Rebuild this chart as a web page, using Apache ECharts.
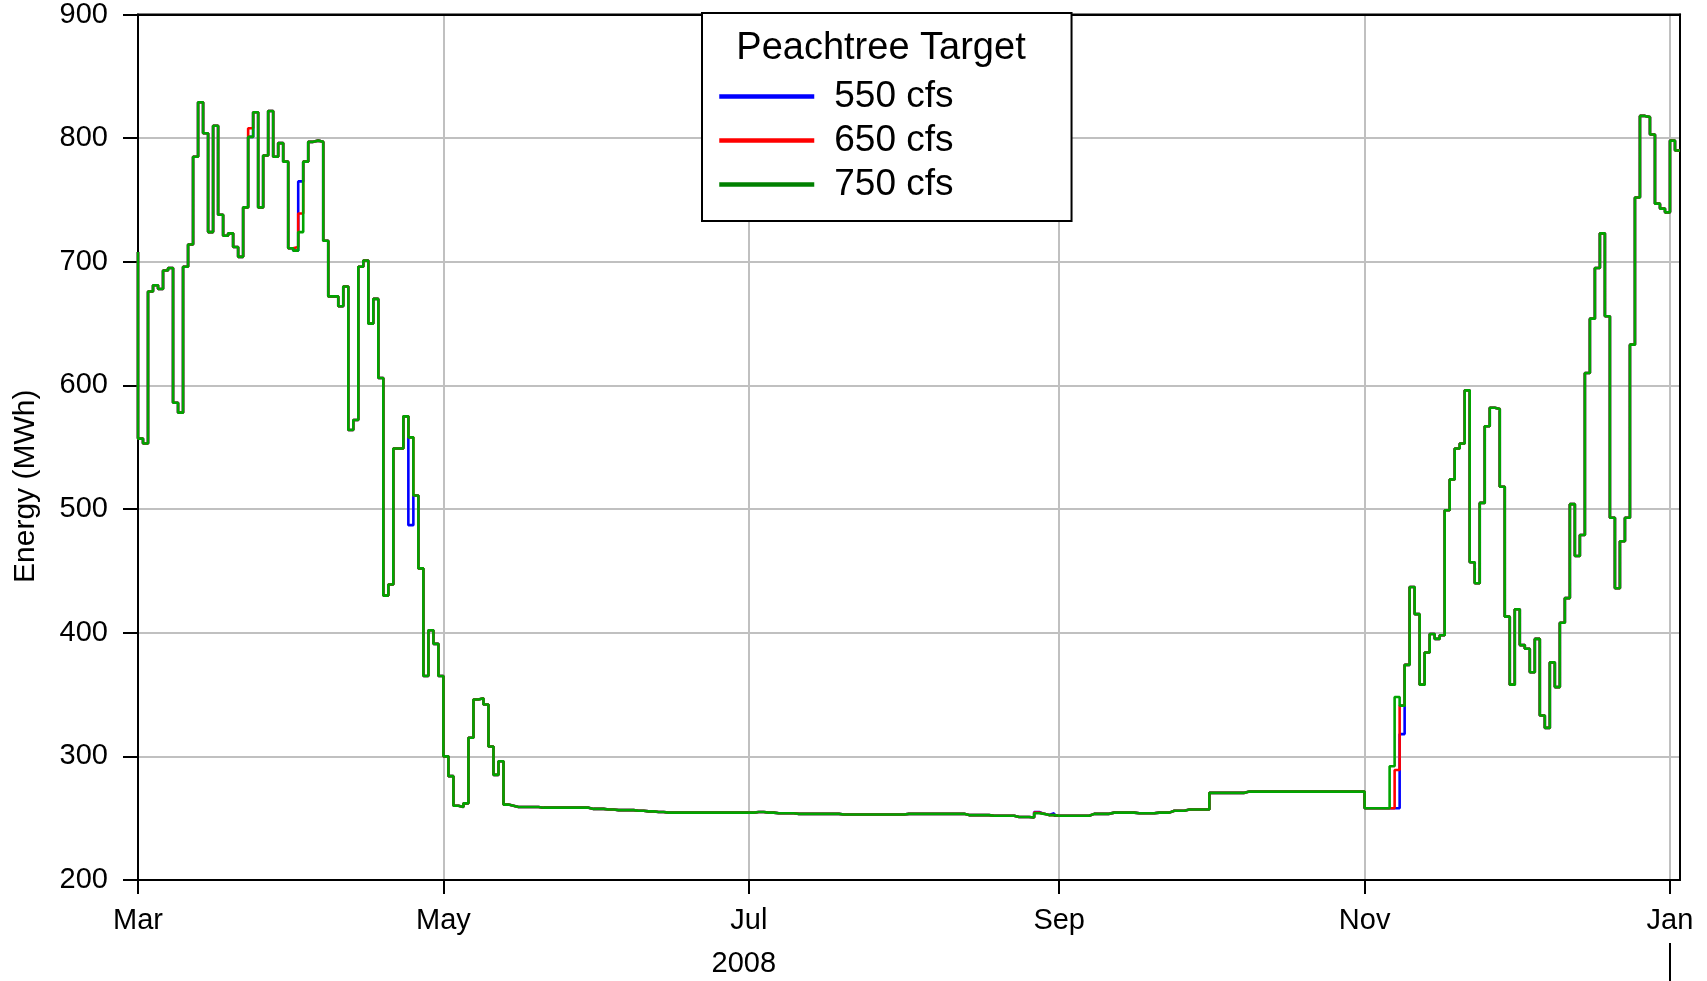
<!DOCTYPE html>
<html>
<head>
<meta charset="utf-8">
<title>Peachtree Target</title>
<script src="https://cdn.jsdelivr.net/npm/echarts@6/dist/echarts.min.js"></script>
<style>
html,body{margin:0;padding:0;background:#fff;}
#chart{width:1707px;height:981px;}
</style>
</head>
<body>
<div id="chart"></div>
<script>
var FONT = 'Liberation Sans, Arial, sans-serif';
var DAY = 86400000;

// daily energy (MWh), 750 cfs target; one value per day
var preMar = 708; // Feb 29, before the axis starts
var e750Mar = [557, 553, 676, 681, 678, 693, 695, 586, 578, 696, 714, 785, 829, 804, 724, 810, 738, 721, 723, 712, 704, 744, 801, 821, 744, 786, 822, 785, 796, 781, 711];
var e750Apr = [709, 724, 781, 797, 798, 797, 717, 672, 672, 664, 680, 564, 572, 696, 701, 650, 670, 606, 430, 439, 549, 549, 575, 558, 511, 452, 365, 402, 391, 365];
var e750May = [300, 284, 260, 259, 262, 315, 346, 347, 342, 308, 285, 296, 261, 260, 259, 259, 259, 259, 259, 258.5, 258.5, 258.5, 258.5, 258.5, 258.5, 258.5, 258.5, 258.5, 258.5, 257.5, 257.5];
var e750Jun = [257.5, 257, 257, 256.5, 256.5, 256.5, 256.5, 256, 256, 255.5, 255.5, 255, 255, 254.5, 254.5, 254.5, 254.5, 254.5, 254.5, 254.5, 254.5, 254.5, 254.5, 254.5, 254.5, 254.5, 254.5, 254.5, 254.5, 254.5];
var e750Jul = [254.5, 255, 255, 254.5, 254.5, 254, 254, 254, 254, 253.5, 253.5, 253.5, 253.5, 253.5, 253.5, 253.5, 253.5, 253.5, 253, 253, 253, 253, 253, 253, 253, 253, 253, 253, 253, 253, 253];
var e750Aug = [253.5, 253.5, 253.5, 253.5, 253.5, 253.5, 253.5, 253.5, 253.5, 253.5, 253.5, 253.5, 252.5, 252.5, 252.5, 252.5, 252.5, 252, 252, 252, 252, 252, 251, 251, 251, 250.5, 254, 253.5, 252.5, 252.5, 252];
var e750Sep = [252, 252, 252, 252, 252, 252, 253.5, 253.5, 253.5, 253.5, 254.5, 254.5, 254.5, 254.5, 254.5, 254, 254, 254, 254, 254.5, 254.5, 254.5, 256, 256, 256, 257, 257, 257, 257, 257];
var e750Oct = [270.5, 270.5, 270.5, 270.5, 270.5, 270.5, 270.5, 271.5, 271.5, 271.5, 271.5, 271.5, 271.5, 271.5, 271.5, 271.5, 271.5, 271.5, 271.5, 271.5, 271.5, 271.5, 271.5, 271.5, 271.5, 271.5, 271.5, 271.5, 271.5, 271.5, 271.5];
var e750Nov = [258, 258, 258, 258, 258, 292, 348, 341, 374, 437, 415, 358, 384, 399, 395, 398, 499, 524, 549, 553, 596, 457, 440, 505, 567, 582, 581, 518, 413, 358];
var e750Dec = [419, 390, 387, 368, 395, 333, 323, 376, 356, 408, 428, 504, 462, 479, 610, 654, 695, 723, 656, 493, 436, 474, 493, 633, 752, 818, 817, 803, 747, 743, 740];
var e750Jan = [798, 790];

// days where the other targets differ from 750 cfs
var diff550 = [['2008-04-02', 765], ['2008-04-24', 487], ['2008-08-27', 255], ['2008-08-30', 254], ['2008-11-06', 258], ['2008-11-07', 258], ['2008-11-08', 318]];
var diff650 = [['2008-03-23', 808], ['2008-04-01', 712], ['2008-04-02', 739], ['2008-08-27', 254.5], ['2008-11-06', 258], ['2008-11-07', 289]];

var seriesNames = ['550 cfs', '650 cfs', '750 cfs'];
var seriesColors = ['#0000ff', '#ff0000', '#00a400'];
var monthNames = ['Jan', 'Feb', 'Mar', 'Apr', 'May', 'Jun', 'Jul', 'Aug', 'Sep', 'Oct', 'Nov', 'Dec'];
var monthTickDates = ['2008-03-01', '2008-05-01', '2008-07-01', '2008-09-01', '2008-11-01', '2009-01-01'];
var yearTickDates = ['2009-01-01'];
var yearLabelDates = ['2008-06-30'];

function utc(s) {
	var p = s.split('-');
	return Date.UTC(+p[0], p[1] - 1, +p[2]);
}
var axisStart = utc('2008-03-01');
var axisEnd = utc('2009-01-03');

var base750 = [].concat(e750Mar, e750Apr, e750May, e750Jun, e750Jul, e750Aug, e750Sep, e750Oct, e750Nov, e750Dec, e750Jan);

// step 'start': the value of day d is drawn from day d to day d+1
function buildData(diffs) {
	var vals = base750.slice();
	for (var i = 0; i < diffs.length; i++) {
		vals[(utc(diffs[i][0]) - axisStart) / DAY] = diffs[i][1];
	}
	var data = [[axisStart, preMar]];
	for (var d = 0; d < vals.length; d++) {
		data.push([axisStart + (d + 1) * DAY, vals[d]]);
	}
	return data;
}
var allData = [buildData(diff550), buildData(diff650), buildData([])];

var series = [];
for (var k = 0; k < 3; k++) {
	series.push({
		name: seriesNames[k],
		type: 'line',
		step: 'start',
		symbol: 'none',
		xAxisIndex: 0,
		yAxisIndex: 0,
		color: seriesColors[k],
		lineStyle: {color: seriesColors[k], width: 2.6},
		data: allData[k]
	});
}

var blackLine = {color: '#000', width: 2};

var chart = echarts.init(document.getElementById('chart'));
var option = {
	animation: false,
	backgroundColor: '#fff',
	title: {
		text: 'Peachtree Target',
		left: 881,
		top: 30,
		textAlign: 'center',
		padding: 0,
		textStyle: {fontSize: 38, fontWeight: 'normal', color: '#000', fontFamily: FONT}
	},
	legend: {
		orient: 'vertical',
		left: 702,
		top: 13,
		padding: [65, 118, 18, 15],
		itemWidth: 95,
		itemHeight: 4,
		itemGap: 7,
		backgroundColor: '#fff',
		borderColor: '#000',
		borderWidth: 2,
		borderRadius: 0,
		lineStyle: {width: 4.5},
		textStyle: {fontSize: 37, lineHeight: 37, color: '#000', fontFamily: FONT, padding: [0, 0, 0, 15]},
		data: [
			{name: '550 cfs'},
			{name: '650 cfs'},
			{name: '750 cfs', itemStyle: {color: '#008000'}, lineStyle: {color: '#008000'}}
		]
	},
	grid: {
		left: 138, top: 13, width: 1542, height: 867,
		show: true, borderColor: '#000', borderWidth: 2
	},
	// dates as UTC milliseconds on value axes, so the ticks can be placed on month starts
	xAxis: [{
		type: 'value',
		min: axisStart,
		max: axisEnd,
		position: 'bottom',
		axisLine: {lineStyle: blackLine},
		axisTick: {customValues: monthTickDates.map(utc), length: 14, lineStyle: blackLine},
		axisLabel: {
			customValues: monthTickDates.map(utc),
			formatter: function(v) { return monthNames[new Date(v).getUTCMonth()]; },
			fontSize: 29, color: '#000', fontFamily: FONT, margin: 26
		},
		splitLine: {show: true, lineStyle: {color: '#c0c0c0', width: 2}}
	}, {
		type: 'value',
		min: axisStart,
		max: axisEnd,
		position: 'bottom',
		offset: 63,
		axisLine: {show: false},
		axisTick: {show: true, customValues: yearTickDates.map(utc), length: 40, lineStyle: blackLine},
		axisLabel: {
			customValues: yearLabelDates.map(utc),
			formatter: function() { return '2008'; },
			fontSize: 29, color: '#000', fontFamily: FONT, margin: 6
		},
		splitLine: {show: false}
	}, {
		// top frame line
		type: 'value',
		min: axisStart,
		max: axisEnd,
		position: 'top',
		axisLine: {show: true, lineStyle: blackLine},
		axisTick: {show: false},
		axisLabel: {show: false},
		splitLine: {show: false}
	}],
	yAxis: [{
		type: 'value',
		min: 200,
		max: 900,
		interval: 100,
		name: 'Energy (MWh)',
		nameLocation: 'middle',
		nameGap: 97,
		nameTextStyle: {fontSize: 30, color: '#000', fontFamily: FONT, padding: [0, 78, 0, 0]},
		axisLine: {show: true, lineStyle: blackLine},
		axisTick: {show: true, length: 15, lineStyle: blackLine},
		axisLabel: {fontSize: 29, color: '#000', fontFamily: FONT, margin: 30},
		splitLine: {lineStyle: {color: '#c0c0c0', width: 2}}
	}, {
		// right frame line
		type: 'value',
		min: 200,
		max: 900,
		interval: 100,
		position: 'right',
		axisLine: {show: true, lineStyle: blackLine},
		axisTick: {show: false},
		axisLabel: {show: false},
		splitLine: {show: false}
	}],
	series: series
};
chart.setOption(option);
</script>
</body>
</html>
